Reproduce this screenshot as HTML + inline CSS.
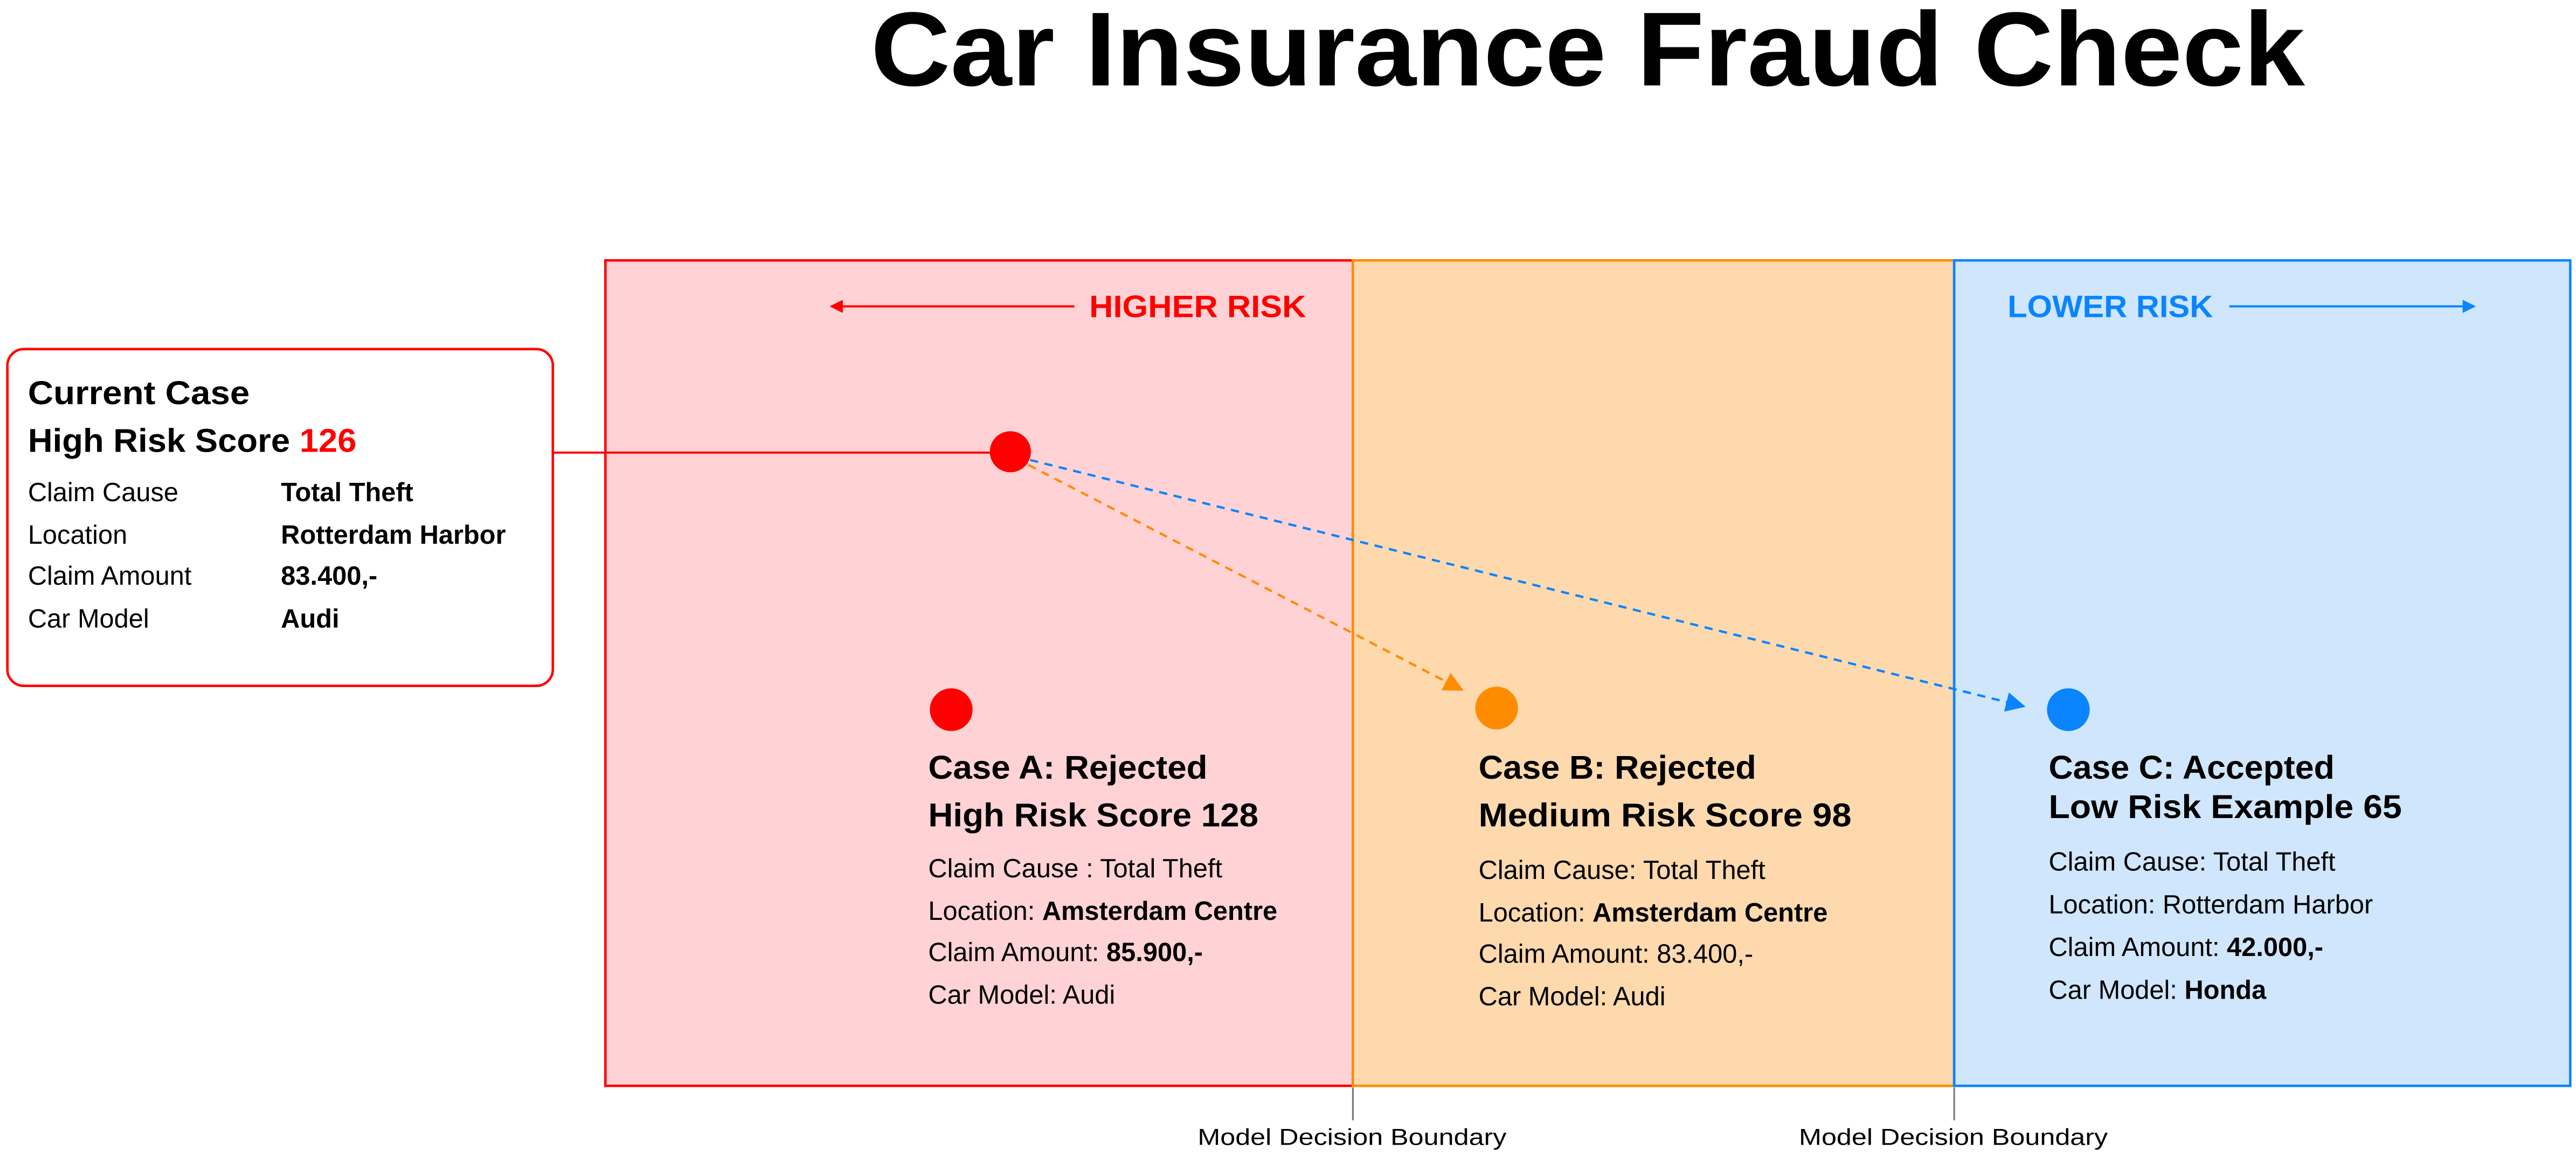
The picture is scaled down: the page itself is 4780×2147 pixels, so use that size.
<!DOCTYPE html>
<html><head><meta charset="utf-8"><style>
html,body{margin:0;padding:0;background:#fff;}
svg{display:block;font-family:"Liberation Sans",sans-serif;}
</style></head><body>
<svg width="4780" height="2147" viewBox="0 0 1568 704.3" preserveAspectRatio="none">
<defs>
<marker id="ar" markerWidth="8" markerHeight="8" refX="7" refY="4" orient="auto" markerUnits="userSpaceOnUse"><path d="M0,0 L8,4 L0,8 Z" fill="#ff0000"/></marker>
<marker id="ab" markerWidth="8" markerHeight="8" refX="7" refY="4" orient="auto" markerUnits="userSpaceOnUse"><path d="M0,0 L8,4 L0,8 Z" fill="#0a84ff"/></marker>
<marker id="ao" markerWidth="12" markerHeight="12" refX="11" refY="6" orient="auto" markerUnits="userSpaceOnUse"><path d="M0,0 L12,6 L0,12 Z" fill="#ff8c00"/></marker>
<marker id="ab2" markerWidth="12" markerHeight="12" refX="11" refY="6" orient="auto" markerUnits="userSpaceOnUse"><path d="M0,0 L12,6 L0,12 Z" fill="#0a84ff"/></marker>
</defs>
<text x="530" y="52" font-size="64" font-weight="bold" textLength="873" lengthAdjust="spacingAndGlyphs">Car Insurance Fraud Check</text>

<rect x="368.5" y="158.5" width="455" height="502.5" fill="#ffd3d5" stroke="#ff0000" stroke-width="1.5"/>
<rect x="823.5" y="158.5" width="366" height="502.5" fill="#fdd9ad" stroke="#ff8c00" stroke-width="1.5"/>
<rect x="1189.5" y="158.5" width="375" height="502.5" fill="#cfe6fc" stroke="#0a84ff" stroke-width="1.5"/>

<line x1="823.5" y1="662" x2="823.5" y2="682" stroke="#777" stroke-width="1"/>
<line x1="1189.5" y1="662" x2="1189.5" y2="682" stroke="#777" stroke-width="1"/>
<text x="823" y="697" font-size="14" text-anchor="middle" textLength="188" lengthAdjust="spacingAndGlyphs">Model Decision Boundary</text>
<text x="1189" y="697" font-size="14" text-anchor="middle" textLength="188" lengthAdjust="spacingAndGlyphs">Model Decision Boundary</text>

<text x="663" y="193" font-size="19" font-weight="bold" fill="#ff0000" textLength="132" lengthAdjust="spacingAndGlyphs">HIGHER RISK</text>
<line x1="654" y1="186.5" x2="506" y2="186.5" stroke="#ff0000" stroke-width="1.3" marker-end="url(#ar)"/>
<text x="1222" y="193" font-size="19" font-weight="bold" fill="#0a84ff" textLength="125" lengthAdjust="spacingAndGlyphs">LOWER RISK</text>
<line x1="1357" y1="186.5" x2="1506" y2="186.5" stroke="#0a84ff" stroke-width="1.3" marker-end="url(#ab)"/>

<rect x="4.5" y="212.5" width="332" height="205" rx="10" fill="#fff" stroke="#ff0000" stroke-width="1.5"/>
<text x="17" y="246" font-size="20" font-weight="bold" textLength="135" lengthAdjust="spacingAndGlyphs">Current Case</text>
<text x="17" y="275" font-size="20" font-weight="bold" textLength="200" lengthAdjust="spacingAndGlyphs">High Risk Score <tspan fill="#ff0000">126</tspan></text>
<g font-size="16">
<text x="17" y="305">Claim Cause</text><text x="171" y="305" font-weight="bold">Total Theft</text>
<text x="17" y="331">Location</text><text x="171" y="331" font-weight="bold">Rotterdam Harbor</text>
<text x="17" y="356">Claim Amount</text><text x="171" y="356" font-weight="bold">83.400,-</text>
<text x="17" y="382">Car Model</text><text x="171" y="382" font-weight="bold">Audi</text>
</g>

<line x1="337" y1="275.5" x2="605" y2="275.5" stroke="#ff0000" stroke-width="1.3"/>
<line x1="626" y1="283" x2="890" y2="420" stroke="#ff8c00" stroke-width="1.4" stroke-dasharray="5,4" marker-end="url(#ao)"/>
<line x1="627" y1="280" x2="1232" y2="430" stroke="#0a84ff" stroke-width="1.4" stroke-dasharray="5,4" marker-end="url(#ab2)"/>
<circle cx="615" cy="275" r="12.5" fill="#ff0000"/>
<circle cx="579" cy="432" r="13" fill="#ff0000"/>
<circle cx="911" cy="431" r="13" fill="#ff8c00"/>
<circle cx="1259" cy="432" r="13" fill="#0a84ff"/>

<g>
<text x="565" y="474" font-size="20" font-weight="bold" textLength="170" lengthAdjust="spacingAndGlyphs">Case A: Rejected</text>
<text x="565" y="503" font-size="20" font-weight="bold" textLength="201" lengthAdjust="spacingAndGlyphs">High Risk Score 128</text>
<text x="565" y="534" font-size="16">Claim Cause : Total Theft</text>
<text x="565" y="560" font-size="16">Location: <tspan font-weight="bold">Amsterdam Centre</tspan></text>
<text x="565" y="585" font-size="16">Claim Amount: <tspan font-weight="bold">85.900,-</tspan></text>
<text x="565" y="611" font-size="16">Car Model: Audi</text>
</g>
<g>
<text x="900" y="474" font-size="20" font-weight="bold" textLength="169" lengthAdjust="spacingAndGlyphs">Case B: Rejected</text>
<text x="900" y="503" font-size="20" font-weight="bold" textLength="227" lengthAdjust="spacingAndGlyphs">Medium Risk Score 98</text>
<text x="900" y="535" font-size="16">Claim Cause: Total Theft</text>
<text x="900" y="561" font-size="16">Location: <tspan font-weight="bold">Amsterdam Centre</tspan></text>
<text x="900" y="586" font-size="16">Claim Amount: 83.400,-</text>
<text x="900" y="612" font-size="16">Car Model: Audi</text>
</g>
<g>
<text x="1247" y="474" font-size="20" font-weight="bold" textLength="174" lengthAdjust="spacingAndGlyphs">Case C: Accepted</text>
<text x="1247" y="498" font-size="20" font-weight="bold" textLength="215" lengthAdjust="spacingAndGlyphs">Low Risk Example 65</text>
<text x="1247" y="530" font-size="16">Claim Cause: Total Theft</text>
<text x="1247" y="556" font-size="16">Location: Rotterdam Harbor</text>
<text x="1247" y="582" font-size="16">Claim Amount: <tspan font-weight="bold">42.000,-</tspan></text>
<text x="1247" y="608" font-size="16">Car Model: <tspan font-weight="bold">Honda</tspan></text>
</g>
</svg>
</body></html>
